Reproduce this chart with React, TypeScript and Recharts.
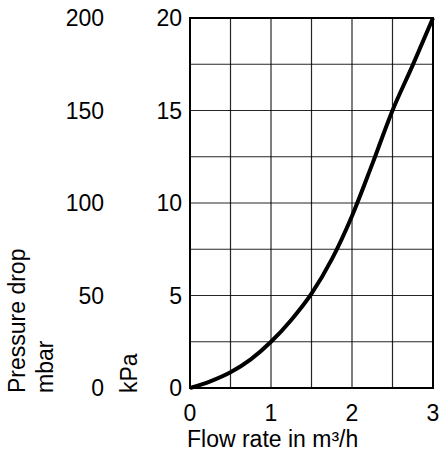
import {
  LineChart,
  Line,
  XAxis,
  YAxis,
  CartesianGrid,
  ReferenceArea,
  Label,
} from 'recharts';

const flowRates = [0, 0.25, 0.5, 0.75, 1, 1.25, 1.5, 1.75, 2, 2.25, 2.5, 2.75, 3];
const pressureKpa = [0, 0.36, 0.85, 1.55, 2.5, 3.68, 5.1, 6.95, 9.3, 12.1, 15, 17.45, 20];

const flowTicks = [0, 0.5, 1, 1.5, 2, 2.5, 3];
const kpaTicks = [0, 2.5, 5, 7.5, 10, 12.5, 15, 17.5, 20];
const mbarTicks = [0, 50, 100, 150, 200];

const data = flowRates.map((flow, i) => ({ flow, kpa: pressureKpa[i] }));

const font = 'Liberation Sans, Arial, sans-serif';
const fontSize = 23;
const tickStyle = { fontSize, fill: '#000', fontFamily: font };

function YTitles(props: any) {
  const vb = props.viewBox;
  const y = vb.y + vb.height + 5;
  const items = [
    { text: 'Pressure drop', x: vb.x + 25 },
    { text: 'mbar', x: vb.x + 53 },
    { text: 'kPa', x: vb.x + 137 },
  ];
  return (
    <g>
      {items.map((t) => (
        <text
          key={t.text}
          x={t.x}
          y={y}
          transform={`rotate(-90, ${t.x}, ${y})`}
          textAnchor="start"
          fontSize={fontSize}
          fontFamily={font}
          fill="#000"
        >
          {t.text}
        </text>
      ))}
    </g>
  );
}

function XTitle(props: any) {
  const vb = props.viewBox;
  return (
    <text
      x={vb.x - 3}
      y={vb.y + 59}
      textAnchor="start"
      fontSize={fontSize}
      fontFamily={font}
      fill="#000"
    >
      Flow rate in m³/h
    </text>
  );
}

export default function App() {
  return (
    <div style={{ position: 'absolute', left: 0, top: 0, background: '#fff' }}>
      <LineChart
        width={443}
        height={456}
        data={data}
        margin={{ top: 18, right: 10, bottom: 0, left: 0 }}
      >
        <CartesianGrid
          yAxisId="kpa"
          stroke="#000"
          strokeWidth={1.2}
          strokeOpacity={0.85}
        />
        <XAxis
          dataKey="flow"
          type="number"
          domain={[0, 3]}
          ticks={flowTicks}
          tickFormatter={(v: number) => (Number.isInteger(v) ? String(v) : '')}
          axisLine={false}
          tickLine={false}
          tickSize={0}
          tickMargin={17}
          height={68}
          tick={tickStyle}
          interval={0}
        >
          <Label content={<XTitle />} />
        </XAxis>
        <YAxis
          yAxisId="kpa"
          orientation="left"
          type="number"
          domain={[0, 20]}
          ticks={kpaTicks}
          tickFormatter={(v: number) => (v % 5 === 0 ? String(v) : '')}
          axisLine={false}
          tickLine={false}
          tickSize={0}
          tickMargin={8}
          width={50}
          tick={tickStyle}
          interval={0}
        />
        <YAxis
          yAxisId="mbar"
          orientation="left"
          type="number"
          domain={[0, 200]}
          allowDataOverflow
          ticks={mbarTicks}
          axisLine={false}
          tickLine={false}
          tickSize={0}
          tickMargin={36}
          width={140}
          tick={tickStyle}
          interval={0}
        >
          <Label content={<YTitles />} />
        </YAxis>
        <ReferenceArea
          yAxisId="kpa"
          x1={0}
          x2={3}
          y1={0}
          y2={20}
          fill="none"
          stroke="#000"
          strokeWidth={2}
          ifOverflow="visible"
        />
        <Line
          yAxisId="kpa"
          type="monotone"
          dataKey="kpa"
          stroke="#000"
          strokeWidth={4}
          dot={false}
          isAnimationActive={false}
        />
      </LineChart>
    </div>
  );
}
